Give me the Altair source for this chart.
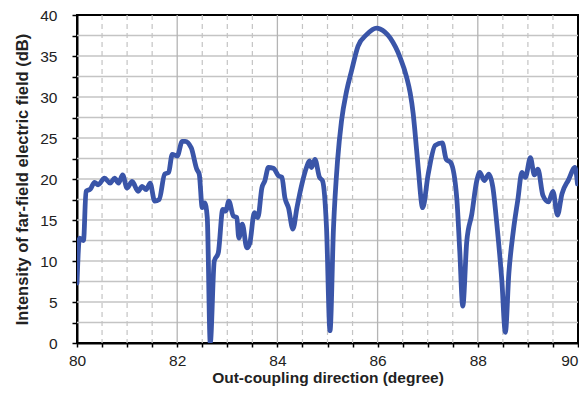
import altair as alt
import pandas as pd

# Out-coupling direction (degree)
deg = [80.00, 80.05, 80.13, 80.18, 80.27, 80.35, 80.42, 80.55, 80.66, 80.75,
       80.83, 80.91, 81.00, 81.10, 81.22, 81.30, 81.38, 81.46, 81.55, 81.64,
       81.75, 81.83, 81.90, 82.00, 82.10, 82.16, 82.28, 82.39, 82.44, 82.50,
       82.55, 82.60, 82.66, 82.74, 82.82, 82.91, 82.97, 83.03, 83.12, 83.19,
       83.23, 83.30, 83.39, 83.45, 83.54, 83.61, 83.69, 83.75, 83.82, 83.92,
       84.02, 84.09, 84.15, 84.22, 84.31, 84.39, 84.49, 84.58, 84.64, 84.68,
       84.75, 84.84, 84.90, 84.98, 85.05, 85.12, 85.20, 85.28, 85.38, 85.48,
       85.61, 85.78, 85.98, 86.05, 86.25, 86.45, 86.58, 86.65, 86.71, 86.75,
       86.81, 86.90, 87.01, 87.15, 87.29, 87.37, 87.46, 87.58, 87.64, 87.70,
       87.78, 87.88, 87.98, 88.04, 88.13, 88.22, 88.30, 88.38, 88.48, 88.55,
       88.62, 88.71, 88.80, 88.88, 88.95, 89.05, 89.13, 89.20, 89.30, 89.41,
       89.50, 89.59, 89.68, 89.81, 89.94, 89.99]
# Intensity of far-field electric field (dB)
db = [7.3, 12.8, 12.5, 18.5, 18.8, 19.6, 19.3, 20.1, 19.5, 20.1,
      19.5, 20.5, 18.9, 19.7, 18.5, 19.1, 18.7, 19.5, 17.3, 17.5,
      20.6, 20.8, 23.0, 22.8, 24.6, 24.6, 23.8, 21.2, 20.6, 16.5,
      17.1, 15.3, 0.0, 10.0, 11.0, 16.3, 16.1, 17.3, 15.5, 15.3,
      12.8, 14.5, 11.6, 12.2, 15.9, 15.3, 18.9, 19.8, 21.4, 21.3,
      20.4, 20.2, 17.7, 16.5, 13.9, 16.5, 19.4, 21.4, 22.2, 21.4,
      22.4, 20.2, 19.8, 14.1, 1.5, 14.1, 22.2, 27.1, 30.7, 33.2,
      36.2, 37.6, 38.4, 38.3, 37.2, 34.8, 32.4, 30.5, 28.0, 25.5,
      21.4, 16.5, 20.6, 24.1, 24.4, 22.4, 22.0, 17.7, 11.2, 4.5,
      12.4, 15.7, 19.8, 20.8, 19.8, 20.6, 19.0, 14.5, 7.6, 1.3,
      8.5, 13.7, 17.5, 20.8, 20.2, 22.6, 20.5, 21.2, 18.0, 17.2,
      18.5, 15.6, 18.2, 19.9, 21.4, 19.4]

x_ticks = [80 + 0.5 * i for i in range(21)]
y_ticks = [2.5 * i for i in range(17)]
grid_major_x = [82, 84, 86, 88]
grid_minor_x = [80.5, 81, 81.5, 82.5, 83, 83.5, 84.5, 85, 85.5, 86.5, 87, 87.5, 88.5, 89, 89.5]
grid_y = [2.5 * i for i in range(1, 16)]

df = pd.DataFrame({"deg": deg, "db": db})

xscale = alt.Scale(domain=[80, 90], nice=False, zero=False)
yscale = alt.Scale(domain=[0, 40], nice=False)

x_axis = alt.Axis(
    values=x_ticks, title="Out-coupling direction (degree)",
    labelExpr="datum.value % 2 === 0 ? format(datum.value, 'd') : ''",
    labelAlign=alt.condition("datum.value >= 90", alt.value("right"), alt.value("center")),
    grid=False, tickSize=4, tickColor="black", tickWidth=1.5,
    domainColor="black", domainWidth=2, labelFontSize=15.5,
    labelColor="#222222", labelPadding=6,
    titleFontSize=15.5, titleFontWeight="bold", titleColor="#222222",
    titlePadding=2)
y_axis = alt.Axis(
    values=y_ticks, title="Intensity of far-field electric field (dB)",
    labelExpr="datum.value % 5 === 0 ? format(datum.value, 'd') : ''",
    grid=False, tickSize=5, tickColor="black", tickWidth=1.5,
    domainColor="black", domainWidth=2, labelFontSize=15.5,
    labelColor="#222222", labelPadding=15,
    titleFontSize=16.5, titleFontWeight="bold", titleColor="#222222",
    titlePadding=9)

hgrid = alt.Chart(pd.DataFrame({"y": grid_y})).mark_rule(
    color="#c4c4c4", strokeWidth=1.5
).encode(y=alt.Y("y:Q", scale=yscale, axis=y_axis))

vmajor = alt.Chart(pd.DataFrame({"x": grid_major_x})).mark_rule(
    color="#b4b4b4", strokeWidth=1.3
).encode(x=alt.X("x:Q", scale=xscale, axis=x_axis))

vminor = alt.Chart(pd.DataFrame({"x": grid_minor_x})).mark_rule(
    color="#c4c4c4", strokeWidth=1.2, strokeDash=[5, 4]
).encode(x=alt.X("x:Q", scale=xscale, axis=x_axis))

line = alt.Chart(df).mark_line(
    color="#3a55a8", strokeWidth=4.8, strokeJoin="round", strokeCap="round",
    interpolate="monotone", clip=True
).encode(
    x=alt.X("deg:Q", scale=xscale, axis=x_axis),
    y=alt.Y("db:Q", scale=yscale, axis=y_axis),
)

chart = alt.layer(hgrid, vmajor, vminor, line).properties(
    width=501, height=328,
    autosize=alt.AutoSizeParams(type="none"),
    padding={"left": 69, "top": 7, "right": 1, "bottom": 45},
).configure(font="Liberation Sans").configure_view(
    stroke="black", strokeWidth=2
)

chart.save("out.html", embed_options={"renderer": "svg", "actions": False})
